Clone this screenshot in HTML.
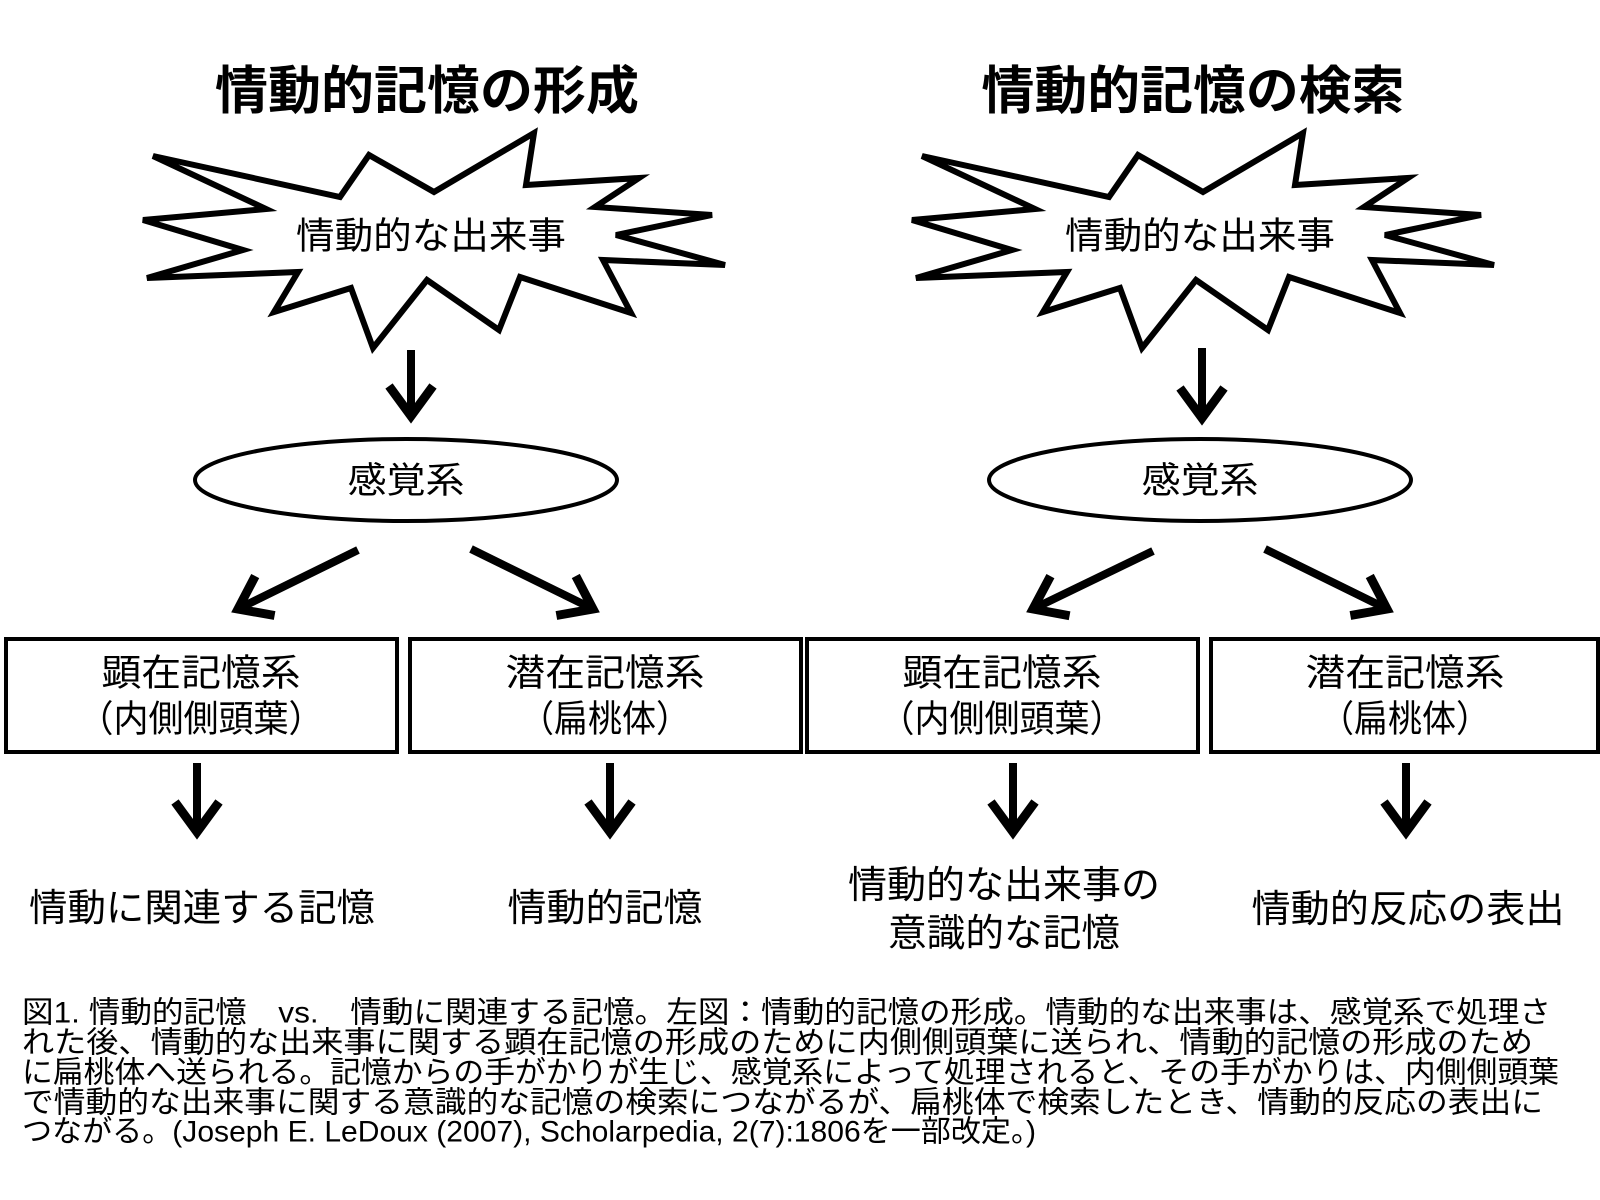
<!DOCTYPE html>
<html><head><meta charset="utf-8"><style>
html,body{margin:0;padding:0;background:#fff;}
svg{display:block;}
text{font-family:"Liberation Sans","Noto Sans CJK JP",sans-serif;fill:#000;}
</style></head><body>
<svg width="1600" height="1200" viewBox="0 0 1600 1200" xmlns="http://www.w3.org/2000/svg">
<defs>
<marker id="ah" markerUnits="userSpaceOnUse" markerWidth="80" markerHeight="80" refX="0" refY="0" orient="auto" viewBox="-40 -40 80 80" overflow="visible">
<path d="M-30 -22 L0 0 L-30 22" fill="none" stroke="#000" stroke-width="9" stroke-linejoin="miter"/>
</marker>
</defs>
<rect width="1600" height="1200" fill="#fff"/>

<text x="427" y="92" font-size="52" font-weight="bold" text-anchor="middle" dominant-baseline="central" textLength="424" lengthAdjust="spacingAndGlyphs">情動的記憶の形成</text>
<text x="1193" y="92" font-size="52" font-weight="bold" text-anchor="middle" dominant-baseline="central" textLength="423" lengthAdjust="spacingAndGlyphs">情動的記憶の検索</text>

<g id="burst">
<polygon points="153,156 266,209 143,220 243,250 147,278 298,272 274,312 351,288 373,348 427,280 499,330 520,277 631,313 603,260 725,265 616,235 712,215 595,207 639,178 526,185 534,133 434,192 369,155 340,197" fill="#fff" stroke="#000" stroke-width="6" stroke-linejoin="miter"/>
<text x="431" y="236" font-size="37" text-anchor="middle" dominant-baseline="central" textLength="270" lengthAdjust="spacingAndGlyphs">情動的な出来事</text>
</g>
<g transform="translate(769,0)">
<polygon points="153,156 266,209 143,220 243,250 147,278 298,272 274,312 351,288 373,348 427,280 499,330 520,277 631,313 603,260 725,265 616,235 712,215 595,207 639,178 526,185 534,133 434,192 369,155 340,197" fill="#fff" stroke="#000" stroke-width="6" stroke-linejoin="miter"/>
<text x="431" y="236" font-size="37" text-anchor="middle" dominant-baseline="central" textLength="270" lengthAdjust="spacingAndGlyphs">情動的な出来事</text>
</g>

<g stroke="#000" stroke-width="8" fill="none">
<line x1="411" y1="350" x2="411" y2="416" marker-end="url(#ah)"/>
<line x1="1202" y1="348" x2="1202" y2="418" marker-end="url(#ah)"/>
<line x1="358" y1="550" x2="238" y2="609" marker-end="url(#ah)"/>
<line x1="471" y1="549" x2="593" y2="609" marker-end="url(#ah)"/>
<line x1="1153" y1="551" x2="1033" y2="609" marker-end="url(#ah)"/>
<line x1="1265" y1="549" x2="1387" y2="609" marker-end="url(#ah)"/>
<line x1="197" y1="763" x2="197" y2="832" marker-end="url(#ah)"/>
<line x1="610" y1="763" x2="610" y2="832" marker-end="url(#ah)"/>
<line x1="1013" y1="763" x2="1013" y2="832" marker-end="url(#ah)"/>
<line x1="1406" y1="763" x2="1406" y2="832" marker-end="url(#ah)"/>
</g>

<ellipse cx="406" cy="480" rx="211" ry="41" fill="#fff" stroke="#000" stroke-width="4"/>
<text x="406" y="480" font-size="36" text-anchor="middle" dominant-baseline="central" textLength="117" lengthAdjust="spacingAndGlyphs">感覚系</text>
<ellipse cx="1200" cy="480" rx="211" ry="41" fill="#fff" stroke="#000" stroke-width="4"/>
<text x="1200" y="480" font-size="36" text-anchor="middle" dominant-baseline="central" textLength="117" lengthAdjust="spacingAndGlyphs">感覚系</text>

<g fill="#fff" stroke="#000" stroke-width="4">
<rect x="6" y="639" width="391" height="113"/>
<rect x="410" y="639" width="391" height="113"/>
<rect x="807" y="639" width="391" height="113"/>
<rect x="1211" y="639" width="387" height="113"/>
</g>
<g font-size="37" text-anchor="middle" dominant-baseline="central">
<text x="201" y="673" textLength="199" lengthAdjust="spacingAndGlyphs">顕在記憶系</text>
<text x="201" y="719" textLength="245" lengthAdjust="spacingAndGlyphs">（内側側頭葉）</text>
<text x="605" y="673" textLength="199" lengthAdjust="spacingAndGlyphs">潜在記憶系</text>
<text x="605" y="719" textLength="170" lengthAdjust="spacingAndGlyphs">（扁桃体）</text>
<text x="1002" y="673" textLength="199" lengthAdjust="spacingAndGlyphs">顕在記憶系</text>
<text x="1002" y="719" textLength="245" lengthAdjust="spacingAndGlyphs">（内側側頭葉）</text>
<text x="1405" y="673" textLength="199" lengthAdjust="spacingAndGlyphs">潜在記憶系</text>
<text x="1405" y="719" textLength="170" lengthAdjust="spacingAndGlyphs">（扁桃体）</text>
</g>

<g font-size="38" text-anchor="middle" dominant-baseline="central">
<text x="202" y="909" textLength="346" lengthAdjust="spacingAndGlyphs">情動に関連する記憶</text>
<text x="605" y="909" textLength="195" lengthAdjust="spacingAndGlyphs">情動的記憶</text>
<text x="1004" y="886" textLength="312" lengthAdjust="spacingAndGlyphs">情動的な出来事の</text>
<text x="1004" y="934" textLength="232" lengthAdjust="spacingAndGlyphs">意識的な記憶</text>
<text x="1408" y="910" textLength="313" lengthAdjust="spacingAndGlyphs">情動的反応の表出</text>
</g>

<g font-size="30" dominant-baseline="central">
<text x="22" y="1013" textLength="1529" lengthAdjust="spacingAndGlyphs">図1. 情動的記憶　vs.　情動に関連する記憶。左図：情動的記憶の形成。情動的な出来事は、感覚系で処理さ</text>
<text x="22" y="1043" textLength="1511" lengthAdjust="spacingAndGlyphs">れた後、情動的な出来事に関する顕在記憶の形成のために内側側頭葉に送られ、情動的記憶の形成のため</text>
<text x="22" y="1073" textLength="1537" lengthAdjust="spacingAndGlyphs">に扁桃体へ送られる。記憶からの手がかりが生じ、感覚系によって処理されると、その手がかりは、内側側頭葉</text>
<text x="22" y="1103" textLength="1521" lengthAdjust="spacingAndGlyphs">で情動的な出来事に関する意識的な記憶の検索につながるが、扁桃体で検索したとき、情動的反応の表出に</text>
<text x="22" y="1132" textLength="1014" lengthAdjust="spacingAndGlyphs">つながる。(Joseph E. LeDoux (2007), Scholarpedia, 2(7):1806を一部改定。)</text>
</g>
</svg>
</body></html>
